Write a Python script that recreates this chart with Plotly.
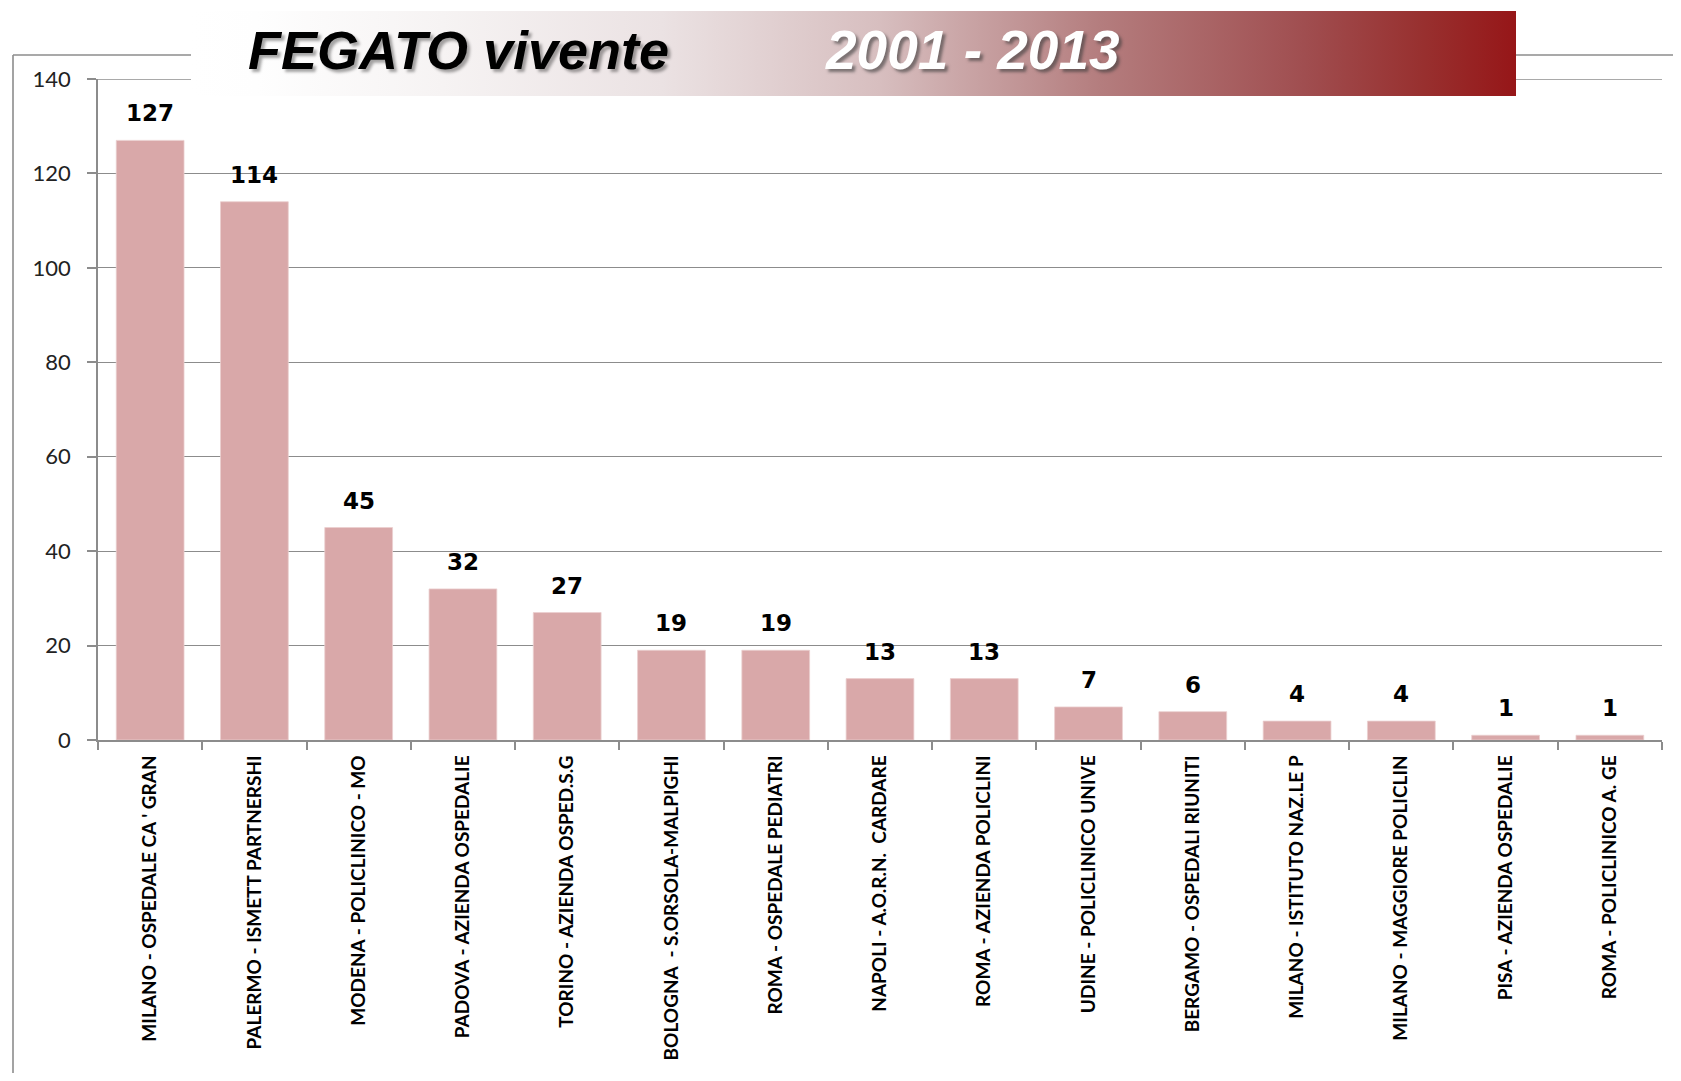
import base64
import plotly.graph_objects as go

categories = [
    "MILANO - OSPEDALE CA ' GRAN",
    "PALERMO - ISMETT PARTNERSHI",
    "MODENA - POLICLINICO - MO",
    "PADOVA - AZIENDA OSPEDALIE",
    "TORINO - AZIENDA OSPED.S.G",
    "BOLOGNA \u00a0- S.ORSOLA-MALPIGHI",
    "ROMA - OSPEDALE PEDIATRI",
    "NAPOLI - A.O.R.N. \u00a0CARDARE",
    "ROMA - AZIENDA POLICLINI",
    "UDINE - POLICLINICO UNIVE",
    "BERGAMO - OSPEDALI RIUNITI",
    "MILANO - ISTITUTO NAZ.LE P",
    "MILANO - MAGGIORE POLICLIN",
    "PISA - AZIENDA OSPEDALIE",
    "ROMA - POLICLINICO A. GE",
]
values = [127, 114, 45, 32, 27, 19, 19, 13, 13, 7, 6, 4, 4, 1, 1]
y_ticks = [0, 20, 40, 60, 80, 100, 120, 140]
title_left = "FEGATO vivente"
title_right = "2001 - 2013"

OFF = 8  # default page body margin
W, H = 1681 - 2 * OFF, 1081 - 2 * OFF
# plot area in page pixels, converted to figure pixels
L, R, T, B = 98 - OFF, 1662 - OFF, 79 - OFF, 740 - OFF
GRAY = "#8C8C8C"


def px_x(p):
    return (p - OFF - L) / (R - L)


def px_y(p):
    return (B - (p - OFF)) / (B - T)


fig = go.Figure()
fig.add_trace(go.Bar(
    x=categories, y=values, width=0.65,
    marker=dict(color="#D9A8A9", line=dict(width=0.8, color="#EBCFCF")),
    hoverinfo="x+y",
))

# value labels
for c, v in zip(categories, values):
    fig.add_annotation(
        x=c, y=v, text=str(v), showarrow=False, yanchor="bottom", yshift=12,
        font=dict(family="DejaVu Sans, Verdana", size=23, color="black", weight="bold"),
    )

# top gridline (at range edge), beneath the banner
fig.add_shape(type="line", xref="paper", yref="y", x0=0, x1=1, y0=140, y1=140,
              line=dict(color=GRAY, width=1.3), layer="below")

# outer frame lines (interrupted by the banner)
fig.add_shape(type="line", xref="paper", yref="paper",
              x0=px_x(13), x1=px_x(13), y0=px_y(55), y1=px_y(1100),
              line=dict(color=GRAY, width=1.6), layer="below")
fig.add_shape(type="line", xref="paper", yref="paper",
              x0=px_x(13), x1=px_x(200), y0=px_y(55), y1=px_y(55),
              line=dict(color=GRAY, width=1.6), layer="below")
fig.add_shape(type="line", xref="paper", yref="paper",
              x0=px_x(1510), x1=px_x(1700), y0=px_y(55), y1=px_y(55),
              line=dict(color=GRAY, width=1.6), layer="below")

# gradient banner as SVG image
svg = (
    '<svg xmlns="http://www.w3.org/2000/svg" width="1325" height="85" preserveAspectRatio="none">'
    '<defs><linearGradient id="g" x1="0" y1="0" x2="1" y2="0">'
    '<stop offset="0" stop-color="#FFFFFF"/>'
    '<stop offset="0.05" stop-color="#FEFEFE"/>'
    '<stop offset="0.19" stop-color="#F6F3F3"/>'
    '<stop offset="0.355" stop-color="#EBE2E3"/>'
    '<stop offset="0.52" stop-color="#D7BEBF"/>'
    '<stop offset="0.686" stop-color="#B47D7E"/>'
    '<stop offset="0.84" stop-color="#A04E50"/>'
    '<stop offset="0.93" stop-color="#98302F"/>'
    '<stop offset="1" stop-color="#961618"/>'
    '</linearGradient></defs>'
    '<rect x="0" y="0" width="1325" height="85" fill="url(#g)"/></svg>'
)
src = "data:image/svg+xml;base64," + base64.b64encode(svg.encode()).decode()

fig.add_layout_image(dict(
    source=src, xref="paper", yref="paper",
    x=px_x(191), y=px_y(11), sizex=px_x(1516) - px_x(191), sizey=px_y(11) - px_y(96),
    xanchor="left", yanchor="top", sizing="stretch", layer="above",
))

title_font = "Liberation Sans Narrow, Arial Narrow, Liberation Sans, Arial"
fig.add_annotation(
    xref="paper", yref="paper", x=px_x(246), y=px_y(50), xanchor="left", yanchor="middle",
    text=title_left, showarrow=False,
    font=dict(family=title_font, size=54, color="black", weight="bold", style="italic",
              shadow="3px 3px 3px rgba(0,0,0,0.35)"),
)
fig.add_annotation(
    xref="paper", yref="paper", x=px_x(823), y=px_y(50), xanchor="left", yanchor="middle",
    text=title_right, showarrow=False,
    font=dict(family=title_font, size=55, color="white", weight="bold", style="italic",
              shadow="3px 3px 3px rgba(60,60,60,0.6)"),
)

fig.update_layout(
    width=W, height=H,
    margin=dict(l=L, r=W - R, t=T, b=H - B, pad=0, autoexpand=False),
    paper_bgcolor="white", plot_bgcolor="white",
    showlegend=False,
    bargap=0.35,
)
fig.update_xaxes(
    type="category", tickangle=-90, tickson="boundaries",
    ticks="outside", ticklen=8, tickcolor=GRAY, tickwidth=1.5,
    showline=True, linecolor=GRAY, linewidth=1.5,
    showgrid=False, automargin=False, ticklabelstandoff=6,
    tickfont=dict(family="Liberation Sans Narrow, Arial Narrow, Lato", size=19,
                  color="black", weight="bold"),
)
fig.update_yaxes(
    range=[0, 140], tickvals=y_ticks, ticktext=[str(t) for t in y_ticks],
    ticks="outside", ticklen=9, tickcolor=GRAY, tickwidth=1.5,
    showline=True, linecolor=GRAY, linewidth=1.5,
    showgrid=True, gridcolor=GRAY, gridwidth=1.3, zeroline=False,
    automargin=False, ticklabelstandoff=12,
    tickfont=dict(family="Lato, Open Sans", size=22, color="#222222"),
)

fig.write_html("out.html")
